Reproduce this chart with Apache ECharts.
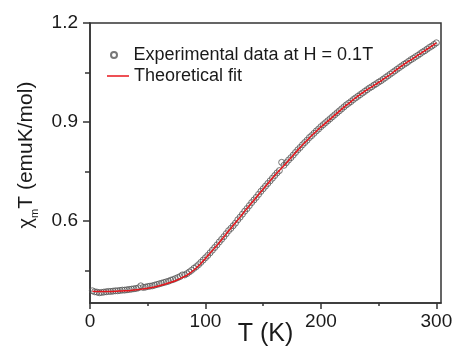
<!DOCTYPE html>
<html>
<head>
<meta charset="utf-8">
<script src="https://cdn.jsdelivr.net/npm/echarts@6/dist/echarts.min.js"></script>
<style>
html,body{margin:0;padding:0;background:#fff;}
#c{width:453px;height:346px;}
</style>
</head>
<body>
<div id="c"></div>
<script>
// ---- data ----
var expT = [2,4,6,8,10,12,14,16,18,20,22,24,26,28,30,32,34,36,38,40,42,44,46,48,50,52,54,56,58,60,62,64,66,68,70,72,74,76,78,80,82,84,86,88,90,92,94,96,98,100,102,104,106,108,110,112,114,116,118,120,122,124,126,128,130,132,134,136,138,140,142,144,146,148,150,152,154,156,158,160,162,164,166,168,170,172,174,176,178,180,182,184,186,188,190,192,194,196,198,200,202,204,206,208,210,212,214,216,218,220,222,224,226,228,230,232,234,236,238,240,242,244,246,248,250,252,254,256,258,260,262,264,266,268,270,272,274,276,278,280,282,284,286,288,290,292,294,296,298,300];
var expChi = [0.389,0.386,0.385,0.383,0.384,0.385,0.386,0.387,0.387,0.388,0.389,0.389,0.390,0.391,0.391,0.392,0.393,0.394,0.395,0.396,0.398,0.404,0.399,0.400,0.402,0.403,0.404,0.406,0.408,0.410,0.412,0.414,0.416,0.418,0.421,0.423,0.426,0.429,0.432,0.437,0.437,0.441,0.446,0.451,0.457,0.462,0.468,0.475,0.482,0.489,0.496,0.504,0.512,0.520,0.528,0.537,0.545,0.553,0.562,0.571,0.578,0.586,0.594,0.604,0.612,0.621,0.630,0.638,0.647,0.656,0.664,0.672,0.681,0.690,0.698,0.706,0.714,0.722,0.730,0.738,0.746,0.753,0.778,0.769,0.777,0.785,0.792,0.800,0.808,0.816,0.823,0.831,0.838,0.845,0.853,0.859,0.866,0.873,0.879,0.886,0.892,0.898,0.904,0.910,0.916,0.922,0.928,0.934,0.940,0.946,0.952,0.957,0.962,0.968,0.973,0.978,0.983,0.988,0.993,0.998,1.003,1.007,1.012,1.016,1.021,1.025,1.030,1.035,1.040,1.045,1.050,1.055,1.060,1.065,1.070,1.075,1.079,1.084,1.089,1.093,1.098,1.102,1.107,1.112,1.116,1.121,1.126,1.130,1.135,1.140];
var fitT = [2,5,10,15,20,25,30,35,40,45,50,55,60,65,70,75,80,85,90,95,100,105,110,115,120,125,130,135,140,145,150,155,160,165,170,175,180,185,190,195,200,205,210,215,220,225,230,235,240,245,250,255,260,265,270,275,280,285,290,295,300];
var fitChi = [0.388,0.387,0.387,0.387,0.387,0.388,0.389,0.390,0.392,0.394,0.397,0.400,0.404,0.409,0.415,0.421,0.429,0.439,0.452,0.468,0.487,0.507,0.527,0.548,0.570,0.591,0.612,0.634,0.655,0.676,0.697,0.718,0.738,0.757,0.776,0.796,0.815,0.834,0.852,0.869,0.885,0.900,0.915,0.930,0.945,0.959,0.973,0.986,0.998,1.009,1.020,1.032,1.044,1.057,1.070,1.082,1.093,1.105,1.116,1.128,1.140];
var xMajorTicks = [0,100,200,300];
var xMinorTicks = [50,150,250];
var yMajorTicks = [0.6,0.9,1.2];
var yMinorTicks = [0.45,0.75,1.05];
var expName = 'Experimental data at H = 0.1T';
var fitName = 'Theoretical fit';

var FONT = '"Liberation Sans", Arial, sans-serif';
var AX = '#333';
var TXT = '#1a1a1a';

function pairs(a, b){ var r=[]; for (var i=0;i<a.length;i++) r.push([a[i], b[i]]); return r; }

var chart = echarts.init(document.getElementById('c'), null, {renderer:'canvas'});
var xBase = {type:'value', gridIndex:0, min:0, max:304, position:'bottom', splitLine:{show:false}};
var yBase = {type:'value', gridIndex:0, min:0.352, max:1.2, position:'left', splitLine:{show:false}};
chart.setOption({
  animation:false,
  backgroundColor:'#fff',
  grid:{left:90, right:12, top:23, bottom:43, show:true, borderColor:AX, borderWidth:1.5,
        backgroundColor:'transparent', outerBoundsMode:'none', containLabel:false},
  legend:[
    {data:[expName], left:110, top:46, padding:0, itemWidth:29, itemHeight:6, orient:'vertical',
     textStyle:{fontSize:18, fontFamily:FONT, color:TXT}},
    {data:[{name:fitName, icon:'rect'}], left:107, top:67, padding:0, itemWidth:22, itemHeight:1.5, orient:'vertical',
     textStyle:{fontSize:18, fontFamily:FONT, color:TXT}}
  ],
  xAxis:[
    Object.assign({}, xBase, {
      name:'T (K)', nameLocation:'middle', nameGap:19, nameMoveOverlap:false,
      nameTextStyle:{fontSize:25, fontFamily:FONT, color:TXT},
      axisLine:{show:true, lineStyle:{color:AX, width:1.5}},
      axisTick:{show:true, length:6, lineStyle:{color:AX, width:1.5}, customValues:xMajorTicks},
      axisLabel:{show:true, fontSize:19, fontFamily:FONT, color:TXT, margin:9, customValues:xMajorTicks}
    }),
    Object.assign({}, xBase, {
      axisLine:{show:false},
      axisTick:{show:true, length:3, lineStyle:{color:AX, width:1.5}, customValues:xMinorTicks},
      axisLabel:{show:false}
    })
  ],
  yAxis:[
    Object.assign({}, yBase, {
      name:'{a|χ}{b|m}{c|T (emuK/mol)}', nameLocation:'middle', nameGap:50, nameRotate:90, nameMoveOverlap:false,
      nameTextStyle:{fontSize:21, fontFamily:FONT, color:TXT,
        rich:{a:{fontSize:20, fontFamily:FONT, color:TXT, padding:[0,0,0,16]},
              b:{fontSize:11, fontFamily:FONT, color:TXT, padding:[16,0,0,0]},
              c:{fontSize:21, fontFamily:FONT, color:TXT}}},
      axisLine:{show:true, lineStyle:{color:AX, width:1.5}},
      axisTick:{show:true, length:7, lineStyle:{color:AX, width:1.5}, customValues:yMajorTicks},
      axisLabel:{show:true, fontSize:19, fontFamily:FONT, color:TXT, margin:12, customValues:yMajorTicks,
        formatter:function(v){return v.toFixed(1);}}
    }),
    Object.assign({}, yBase, {
      axisLine:{show:false},
      axisTick:{show:true, length:5, lineStyle:{color:AX, width:1.5}, customValues:yMinorTicks},
      axisLabel:{show:false}
    })
  ],
  series:[
    {name:expName, type:'scatter', xAxisIndex:0, yAxisIndex:0, data:pairs(expT, expChi),
     symbol:'circle', symbolSize:6, z:2,
     itemStyle:{color:'rgba(255,255,255,0)', borderColor:'#555', borderWidth:1}},
    {name:fitName, type:'line', xAxisIndex:0, yAxisIndex:0, data:pairs(fitT, fitChi),
     smooth:true, symbol:'none', showSymbol:false, z:3,
     lineStyle:{color:'#e8161c', width:1.5}, itemStyle:{color:'#e8161c'}}
  ]
});
</script>
</body>
</html>
